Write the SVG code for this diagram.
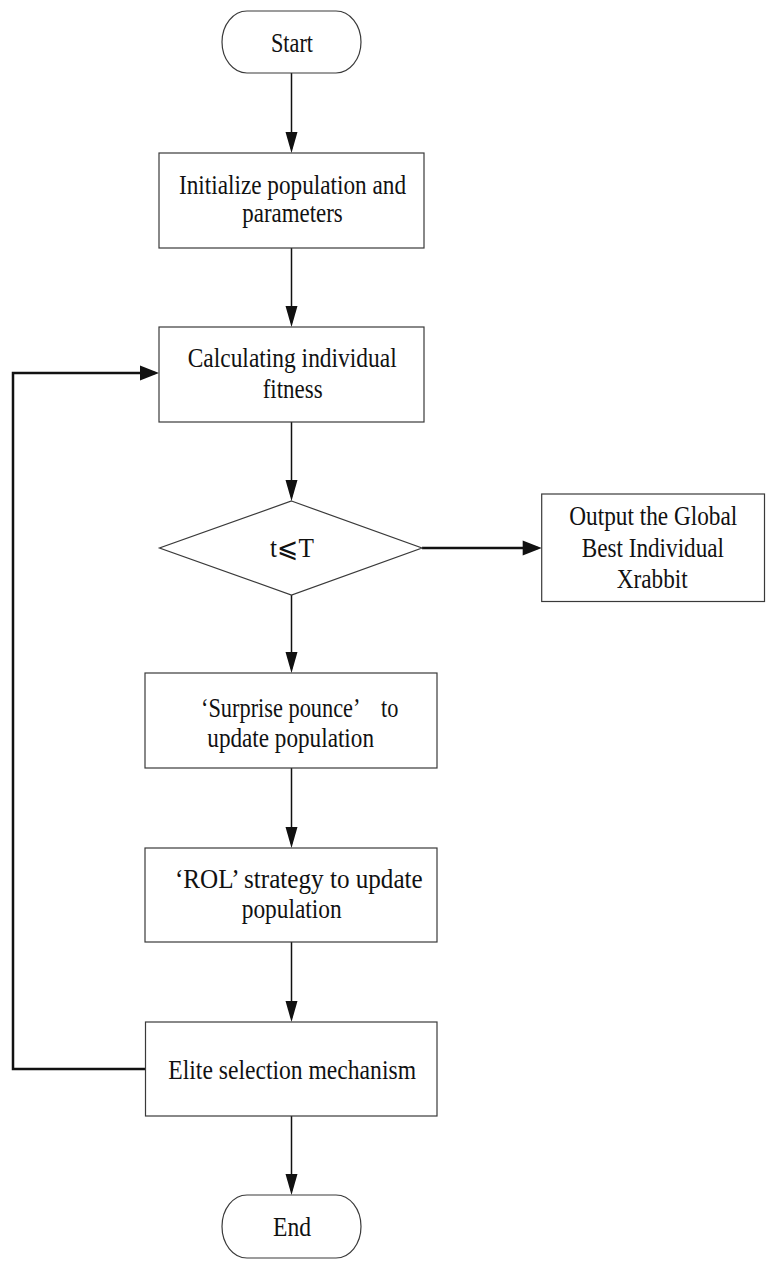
<svg xmlns="http://www.w3.org/2000/svg" width="772" height="1272" viewBox="0 0 772 1272">
<style>
  .box { fill: #ffffff; stroke: #3a3a3a; stroke-width: 1.2; }
  .t { font-family: "Liberation Serif", "Times New Roman", "Noto Sans CJK SC", serif; font-size: 27px; fill: #111111; }
  .cjk { font-family: "Liberation Serif", "Noto Sans CJK SC", serif; }
  .c { fill: none; stroke: #111111; stroke-width: 1.5; }
  .cw { fill: none; stroke: #111111; stroke-width: 2.5; }
</style>
<defs>
  <marker id="av" markerUnits="userSpaceOnUse" markerWidth="22" markerHeight="13" refX="17" refY="6" orient="auto" overflow="visible">
    <path d="M0,0 L21,6 L0,12 z" fill="#111111"/>
  </marker>
  <marker id="ah" markerUnits="userSpaceOnUse" markerWidth="20" markerHeight="16" refX="15" refY="7.5" orient="auto" overflow="visible">
    <path d="M0,0 L19,7.5 L0,15 z" fill="#111111"/>
  </marker>
</defs>
<rect width="772" height="1272" fill="#ffffff"/>

<g id="connectors">
  <line class="c" x1="291.5" y1="73" x2="291.5" y2="149" marker-end="url(#av)"/>
  <line class="c" x1="291.5" y1="248" x2="291.5" y2="323" marker-end="url(#av)"/>
  <line class="c" x1="291.5" y1="422" x2="291.5" y2="497" marker-end="url(#av)"/>
  <line class="c" x1="291.5" y1="595" x2="291.5" y2="669" marker-end="url(#av)"/>
  <line class="c" x1="291.5" y1="768" x2="291.5" y2="844" marker-end="url(#av)"/>
  <line class="c" x1="291.5" y1="942" x2="291.5" y2="1018" marker-end="url(#av)"/>
  <line class="c" x1="291.5" y1="1116" x2="291.5" y2="1191" marker-end="url(#av)"/>
  <line class="cw" x1="422" y1="548" x2="537.7" y2="548" marker-end="url(#ah)"/>
  <polyline class="cw" points="145.5,1069 13,1069 13,373 155,373" marker-end="url(#ah)"/>
</g>

<g id="start">
  <rect class="box" x="222" y="11" width="139" height="62" rx="25" ry="31"/>
  <text class="t" x="271" y="51.5" textLength="42" lengthAdjust="spacingAndGlyphs">Start</text>
</g>

<g id="init">
  <rect class="box" x="159" y="153" width="265" height="95"/>
  <text class="t" x="179" y="193.5" textLength="227" lengthAdjust="spacingAndGlyphs">Initialize population and</text>
  <text class="t" x="242.3" y="222" textLength="100.4" lengthAdjust="spacingAndGlyphs">parameters</text>
</g>

<g id="fitness">
  <rect class="box" x="159" y="327" width="265" height="95"/>
  <text class="t" x="187.7" y="367" textLength="209" lengthAdjust="spacingAndGlyphs">Calculating individual</text>
  <text class="t" x="262.7" y="398" textLength="60" lengthAdjust="spacingAndGlyphs">fitness</text>
</g>

<g id="decision">
  <polygon class="box" points="291.5,501 422,548 291.5,595 159.5,548"/>
  <text class="t cjk" x="270" y="557" textLength="44" lengthAdjust="spacingAndGlyphs">t⩽T</text>
</g>

<g id="output">
  <rect class="box" x="541.7" y="494" width="222.8" height="107.5"/>
  <text class="t" x="569.3" y="525" textLength="168" lengthAdjust="spacingAndGlyphs">Output the Global</text>
  <text class="t" x="581.7" y="556.7" textLength="142.3" lengthAdjust="spacingAndGlyphs">Best Individual</text>
  <text class="t" x="616.7" y="588.3" textLength="71" lengthAdjust="spacingAndGlyphs">Xrabbit</text>
</g>

<g id="surprise">
  <rect class="box" x="145" y="673" width="292" height="95"/>
  <text class="t" x="201" y="717" textLength="197.5" lengthAdjust="spacingAndGlyphs">‘Surprise pounce’　to</text>
  <text class="t" x="207.3" y="747" textLength="166.7" lengthAdjust="spacingAndGlyphs">update population</text>
</g>

<g id="rol">
  <rect class="box" x="145" y="848" width="292" height="94"/>
  <text class="t" x="175" y="888" textLength="247.7" lengthAdjust="spacingAndGlyphs">‘ROL’ strategy to update</text>
  <text class="t" x="241.7" y="918" textLength="100" lengthAdjust="spacingAndGlyphs">population</text>
</g>

<g id="elite">
  <rect class="box" x="145.5" y="1022" width="291.5" height="94"/>
  <text class="t" x="168.3" y="1079" textLength="247.7" lengthAdjust="spacingAndGlyphs">Elite selection mechanism</text>
</g>

<g id="end">
  <rect class="box" x="222" y="1195" width="139" height="63" rx="25" ry="31.5"/>
  <text class="t" x="273" y="1236" textLength="38" lengthAdjust="spacingAndGlyphs">End</text>
</g>
</svg>
